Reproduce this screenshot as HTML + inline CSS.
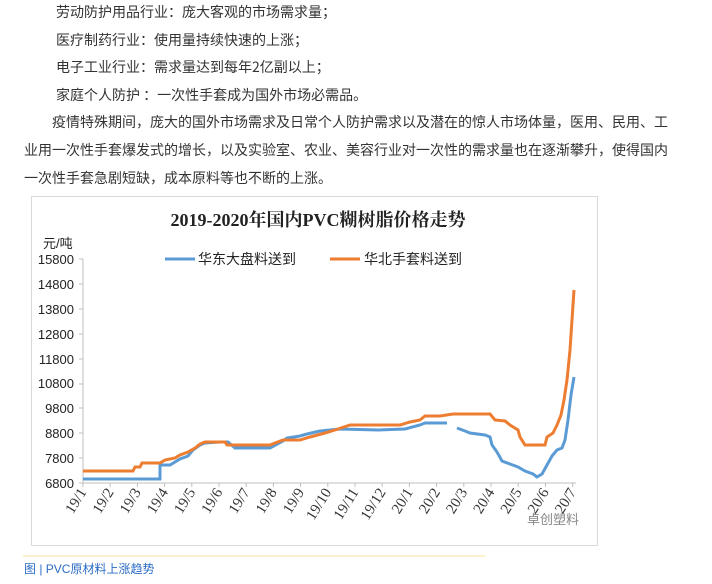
<!DOCTYPE html>
<html><head><meta charset="utf-8"><style>
body{margin:0;width:712px;height:584px;background:#fff;overflow:hidden;position:relative;font-family:"Noto Sans CJK SC",sans-serif;}
.t{position:absolute;font-size:14px;color:#333;white-space:nowrap;line-height:16px;}
</style></head><body>
<div class="t" style="left:56px;top:4px">劳动防护用品行业：庞大客观的市场需求量；</div>
<div class="t" style="left:56px;top:32px">医疗制药行业：使用量持续快速的上涨；</div>
<div class="t" style="left:56px;top:59px">电子工业行业：需求量达到每年2亿副以上；</div>
<div class="t" style="left:56px;top:87px">家庭个人防护 ：一次性手套成为国外市场必需品。</div>
<div class="t" style="left:52px;top:114px">疫情特殊期间，庞大的国外市场需求及日常个人防护需求以及潜在的惊人市场体量，医用、民用、工</div>
<div class="t" style="left:24px;top:142px">业用一次性手套爆发式的增长，以及实验室、农业、美容行业对一次性的需求量也在逐渐攀升，使得国内</div>
<div class="t" style="left:24px;top:170px">一次性手套急剧短缺，成本原料等也不断的上涨。</div>
<svg width="712" height="584" style="position:absolute;left:0;top:0">
<rect x="31.5" y="196.5" width="566" height="349" fill="none" stroke="#d9d9d9"/>
<text x="318" y="226" text-anchor="middle" font-family="Liberation Serif,Noto Serif CJK SC,serif" font-weight="bold" font-size="18" fill="#222">2019-2020年国内PVC糊树脂价格走势</text>
<text x="43" y="248" font-family="Liberation Sans,Noto Sans CJK SC,sans-serif" font-size="13" fill="#222">元/吨</text>
<line x1="165" y1="259" x2="195" y2="259" stroke="#5b9bd5" stroke-width="3"/>
<text x="198" y="264" font-size="14" fill="#222" font-family="Liberation Sans,Noto Sans CJK SC,sans-serif">华东大盘料送到</text>
<line x1="330" y1="259" x2="360" y2="259" stroke="#ed7d31" stroke-width="3"/>
<text x="364" y="264" font-size="14" fill="#222" font-family="Liberation Sans,Noto Sans CJK SC,sans-serif">华北手套料送到</text>
<g font-family="Liberation Sans,sans-serif" font-size="13" fill="#222" text-anchor="end">
<text x="74" y="264">15800</text><text x="74" y="289">14800</text><text x="74" y="314">13800</text><text x="74" y="339">12800</text><text x="74" y="364">11800</text><text x="74" y="388">10800</text><text x="74" y="413">9800</text><text x="74" y="438">8800</text><text x="74" y="463">7800</text><text x="74" y="488">6800</text>
</g>
<g stroke="#bfbfbf" stroke-width="1">
<line x1="83" y1="259" x2="83" y2="483"/>
<line x1="83" y1="483" x2="576" y2="483"/>
<line x1="79" y1="259" x2="83" y2="259"/><line x1="79" y1="284" x2="83" y2="284"/><line x1="79" y1="309" x2="83" y2="309"/><line x1="79" y1="334" x2="83" y2="334"/><line x1="79" y1="359" x2="83" y2="359"/><line x1="79" y1="384" x2="83" y2="384"/><line x1="79" y1="408" x2="83" y2="408"/><line x1="79" y1="433" x2="83" y2="433"/><line x1="79" y1="458" x2="83" y2="458"/><line x1="79" y1="483" x2="83" y2="483"/>
</g>
<g id="xt" font-family="Liberation Serif,serif" font-size="15" fill="#333" text-anchor="end"></g>
<polyline fill="none" stroke="#5b9bd5" stroke-width="3" points="83,479 160,479 160,465 170,465 180,459 188,456 193,450 200,445 205,443 220,442 228,442 235,448 270,448 283,441 287,438 300,436 307,434 320,431 340,429 378,430 405,429 420,425 425,423 447,423"/>
<polyline fill="none" stroke="#5b9bd5" stroke-width="3" points="457,428 465,431 470,433 485,435 490,437 492,445 497,452 502,461 510,464 518,467 525,471 533,474 537,477 542,474 547,465 552,456 557,450 562,448 565,440 568,420 571,395 574,377"/>
<polyline fill="none" stroke="#ed7d31" stroke-width="3" points="83,471 133,471 135,467 140,467 142,463 160,463 165,460 175,458 180,455 188,452 195,448 200,444 205,442 225,442 227,445 270,445 275,443 283,440 290,440 300,440 310,437 325,433 335,430 350,425 400,425 410,422 420,420 425,416 440,416 453,414 490,414 495,420 505,421 510,425 518,430 520,437 525,445 545,445 547,437 553,433 557,425 561,415 564,400 567,380 570,350 572,320 574,290"/>
<line x1="23" y1="556" x2="485" y2="556" stroke="#fde29a" stroke-width="1"/>
<text x="24" y="573" font-size="12" fill="#2b6cc4" font-family="Liberation Sans,Noto Sans CJK SC,sans-serif">图 | PVC原材料上涨趋势</text>
<text x="527" y="524" font-size="13" fill="#888" font-family="Liberation Sans,Noto Sans CJK SC,sans-serif">卓创塑料</text>
</svg>
<script>
var l=["19/1","19/2","19/3","19/4","19/5","19/6","19/7","19/8","19/9","19/10","19/11","19/12","20/1","20/2","20/3","20/4","20/5","20/6","20/7"];
var g=document.getElementById("xt"),h="";
for(var i=0;i<19;i++){var x=83+i*27.2;
h+='<line x1="'+x+'" y1="483" x2="'+x+'" y2="487" stroke="#bfbfbf"/>';
h+='<text transform="translate('+(x+4)+',492) rotate(-58)">'+l[i]+'</text>';}
g.innerHTML=h;
</script>
</body></html>
